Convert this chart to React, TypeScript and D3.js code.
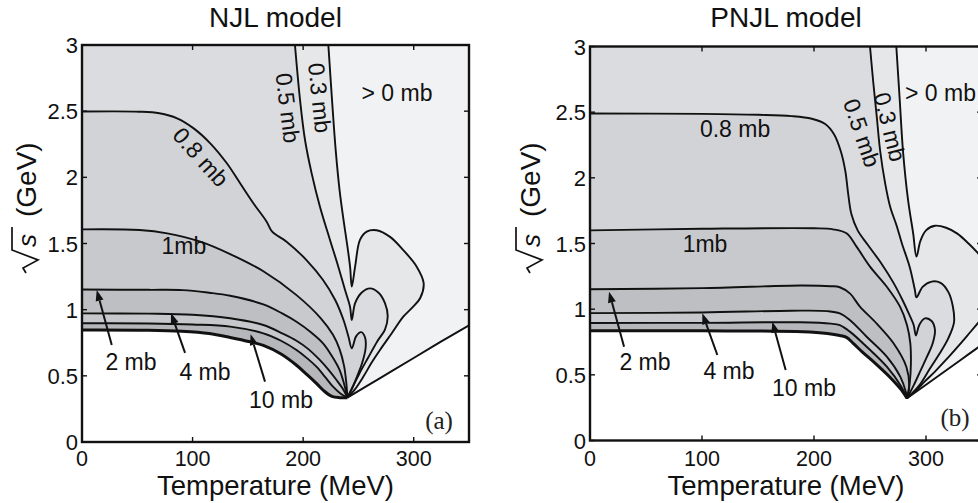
import React from 'react';
import * as d3 from 'd3';

type Pt = [number, number];

// ---------- axes ----------
const tempTicks = [0, 100, 200, 300];
const sqrtsTicks = [0, 0.5, 1, 1.5, 2, 2.5, 3];
const sqrtsTickLabels = ['0', '0.5', '1', '1.5', '2', '2.5', '3'];
const tempMax = 350;
const sqrtsMax = 3;

// contour levels (mb), region fills for "> level"
const contourLevels = [0.3, 0.5, 0.8, 1, 2, 4, 10];

// ---------- NJL model (T in MeV, sqrt(s) in GeV) ----------
const njlThresholdLeft: Pt[] = [[0, 0.847], [60, 0.845], [90, 0.837], [115, 0.82], [134, 0.79], [152, 0.757], [164, 0.73], [180, 0.665], [194, 0.58], [204, 0.505], [212, 0.443], [219, 0.385], [226, 0.345], [233, 0.335], [240, 0.335]];
const njlThresholdRight: Pt[] = [[240, 0.335], [270, 0.485], [300, 0.635], [325, 0.76], [350, 0.882]];
const njl03: Pt[] = [[222.8, 3], [226, 2.6], [229.5, 2.2], [233, 1.9], [236.5, 1.68], [240, 1.48], [242.5, 1.32], [244, 1.174], [247, 1.325], [251.4, 1.527], [257.5, 1.59], [266.5, 1.6], [278.6, 1.55], [290.6, 1.45], [302.7, 1.325], [309, 1.2], [306, 1.09], [298, 1.01], [290.6, 0.947], [280, 0.82], [269.5, 0.695], [262, 0.6], [254.4, 0.493], [247, 0.4], [240, 0.335]];
const njl05: Pt[] = [[192.6, 3], [197.2, 2.584], [201.7, 2.282], [207.7, 2.03], [215.2, 1.778], [224.3, 1.527], [231.8, 1.325], [237.9, 1.149], [242.4, 1.022], [244, 0.922], [247, 1.05], [253, 1.13], [260.5, 1.161], [268, 1.13], [274, 1.05], [276.5, 0.95], [274, 0.85], [267, 0.76], [259, 0.64], [251, 0.52], [245, 0.42], [240, 0.335]];
const njl08: Pt[] = [[0, 2.497], [52, 2.496], [70, 2.484], [86, 2.446], [101, 2.37], [116, 2.257], [131, 2.106], [143, 1.955], [155, 1.804], [167, 1.665], [172, 1.589], [185, 1.514], [203, 1.375], [218, 1.224], [229, 1.073], [236.5, 0.922], [241, 0.796], [244, 0.708], [248, 0.8], [252.5, 0.83], [256, 0.79], [256.5, 0.71], [253.5, 0.6], [249, 0.5], [244.5, 0.41], [240, 0.335]];
const njl1: Pt[] = [[0, 1.607], [52, 1.602], [77, 1.577], [107, 1.514], [134, 1.42], [164, 1.29], [194, 1.11], [216, 0.935], [227, 0.81], [233, 0.7], [237, 0.575], [239, 0.45], [240, 0.335]];
const njl2: Pt[] = [[0, 1.152], [60, 1.15], [91, 1.148], [115, 1.128], [134, 1.105], [164, 1.04], [181, 0.972], [194, 0.909], [207, 0.83], [218, 0.746], [226, 0.65], [233, 0.544], [237, 0.44], [240, 0.335]];
const njl4: Pt[] = [[0, 0.972], [60, 0.97], [100, 0.962], [134, 0.935], [164, 0.884], [181, 0.821], [194, 0.765], [205, 0.7], [215, 0.62], [223, 0.545], [230, 0.47], [236, 0.4], [240, 0.335]];
const njl10: Pt[] = [[0, 0.897], [60, 0.896], [100, 0.888], [134, 0.872], [164, 0.821], [180, 0.765], [194, 0.695], [204, 0.63], [212, 0.569], [220, 0.49], [227, 0.418], [234, 0.365], [240, 0.335]];

// ---------- PNJL model ----------
const pnjlThresholdLeft: Pt[] = [[0, 0.835], [100, 0.835], [190, 0.828], [212, 0.815], [223, 0.8], [229, 0.785], [235, 0.74], [243, 0.675], [255, 0.585], [268, 0.48], [278, 0.385], [283, 0.321]];
const pnjlThresholdRight: Pt[] = [[283, 0.321], [310, 0.486], [330, 0.608], [350, 0.73]];
const pnjl03: Pt[] = [[273.5, 3], [276.5, 2.6], [279.5, 2.2], [284, 1.83], [288.5, 1.58], [291.5, 1.4], [295, 1.52], [300, 1.6], [308, 1.635], [318, 1.62], [328, 1.575], [338, 1.5], [346, 1.43], [350, 1.39]];
const pnjl03Return: Pt[] = [[350, 0.93], [340, 0.83], [330, 0.73], [318, 0.615], [308, 0.525], [299, 0.45], [291, 0.38], [283, 0.321]];
const pnjl05: Pt[] = [[250, 3], [253, 2.72], [256, 2.47], [259, 2.21], [263.5, 1.96], [268, 1.78], [274, 1.63], [278.5, 1.5], [285.5, 1.32], [290, 1.15], [291.5, 1.09], [297, 1.17], [305, 1.21], [313, 1.2], [320, 1.13], [324, 1.02], [325, 0.9], [320, 0.78], [312, 0.66], [303, 0.54], [294, 0.42], [283, 0.321]];
const pnjl08: Pt[] = [[0, 2.49], [100, 2.487], [150, 2.48], [180, 2.47], [198, 2.45], [210, 2.41], [218, 2.33], [224, 2.2], [228, 2.05], [230.5, 1.88], [233.5, 1.72], [239, 1.6], [248, 1.49], [260, 1.35], [271, 1.2], [279, 1.07], [285, 0.96], [289, 0.88], [291, 0.8], [294, 0.88], [299, 0.93], [305, 0.91], [308, 0.84], [306, 0.74], [301, 0.64], [295, 0.53], [289, 0.42], [283, 0.321]];
const pnjl1: Pt[] = [[0, 1.6], [100, 1.612], [200, 1.616], [217, 1.608], [229, 1.578], [238, 1.476], [250, 1.324], [265, 1.171], [276.8, 1.019], [283, 0.88], [286, 0.74], [286.5, 0.58], [285.5, 0.44], [283, 0.321]];
const pnjl2: Pt[] = [[0, 1.152], [100, 1.16], [188, 1.18], [215, 1.175], [223, 1.167], [232, 1.12], [241, 1.02], [256, 0.89], [271, 0.74], [282.5, 0.56], [285, 0.41], [283, 0.321]];
const pnjl4: Pt[] = [[0, 0.97], [100, 0.975], [180, 0.988], [212, 0.985], [223, 0.968], [232, 0.918], [247, 0.79], [265, 0.638], [277, 0.486], [282, 0.37], [283, 0.321]];
const pnjl10: Pt[] = [[0, 0.895], [100, 0.896], [188, 0.9], [215, 0.89], [223, 0.878], [232, 0.829], [247, 0.714], [265, 0.562], [278, 0.41], [283, 0.321]];

// ---------- annotations (data coordinates) ----------
type Label = { text: string; at: Pt; rot?: number; anchor?: string };
type Arrow = { from: Pt; to: Pt };
const njlLabels: Label[] = [
  { text: '0.8 mb', at: [107.6, 2.154], rot: 48 },
  { text: '0.5 mb', at: [186.3, 2.524], rot: 83 },
  { text: '0.3 mb', at: [215.2, 2.6], rot: 84 },
  { text: '> 0 mb', at: [284.9, 2.637] },
  { text: '1mb', at: [92.2, 1.481] },
  { text: '2 mb', at: [44.3, 0.605] },
  { text: '4 mb', at: [111.2, 0.529] },
  { text: '10 mb', at: [180, 0.317] },
];
const njlArrows: Arrow[] = [
  { from: [26.9, 0.733], to: [13.3, 1.149] },
  { from: [93.2, 0.673], to: [80.5, 0.975] },
  { from: [165.5, 0.456], to: [152.5, 0.815] },
];
const pnjlLabels: Label[] = [
  { text: '0.8 mb', at: [129.5, 2.376] },
  { text: '0.5 mb', at: [242.9, 2.342], rot: 71 },
  { text: '0.3 mb', at: [267.9, 2.388], rot: 76 },
  { text: '> 0 mb', at: [281.25, 2.647], anchor: 'start' },
  { text: '1mb', at: [102.7, 1.497] },
  { text: '2 mb', at: [49.1, 0.598] },
  { text: '4 mb', at: [124.1, 0.529] },
  { text: '10 mb', at: [191.1, 0.4] },
];
const pnjlArrows: Arrow[] = [
  { from: [30.4, 0.714], to: [17, 1.133] },
  { from: [113.7, 0.651], to: [100.3, 0.969] },
  { from: [174.7, 0.537], to: [162.8, 0.905] },
];

// ---------- styles ----------
const SANS = 'Liberation Sans, Arial, Helvetica, sans-serif';
const SERIF = 'Liberation Serif, Times New Roman, serif';
const INK = '#111';
const bgFill = '#f1f2f4';
const levelFills = ['#e6e7e9', '#dbdcdf', '#d2d3d6', '#c8c9cc', '#bebfc2', '#c7c8cb', '#b6b7ba'];

type Geom = { x0: number; y0: number; w: number; h: number };

interface PanelProps {
  id: string;
  geom: Geom;
  title: string;
  tag: string;
  tagAt: Pt;
  lines: Pt[][];
  ret03?: Pt[];
  thrL: Pt[];
  thrR: Pt[];
  labels: Label[];
  arrows: Arrow[];
  ylabX: number;
  ylabY: number;
}

function Panel(p: PanelProps) {
  const { geom } = p;
  const x = d3.scaleLinear().domain([0, tempMax]).range([geom.x0, geom.x0 + geom.w]);
  const y = d3.scaleLinear().domain([0, sqrtsMax]).range([geom.y0 + geom.h, geom.y0]);
  const gen = d3.line<Pt>().x(d => x(d[0])).y(d => y(d[1])).curve(d3.curveCatmullRom.alpha(0.5));
  const poly = (pieces: Pt[][]) =>
    pieces.map((pc, i) => { const s = gen(pc) as string; return i ? 'L' + s.slice(1) : s; }).join('') + 'Z';
  const thrLRev = p.thrL.slice().reverse();
  const thrRRev = p.thrR.slice().reverse();
  const bgPath = poly([[[0, sqrtsMax], [tempMax, sqrtsMax]], [[tempMax, sqrtsMax], p.thrR[p.thrR.length - 1]], thrRRev, thrLRev]);
  const levelPaths = p.lines.map((ln, i) => {
    const pieces: Pt[][] = [];
    const first = ln[0];
    if (first[1] >= sqrtsMax) pieces.push([[0, sqrtsMax], first]);
    pieces.push(ln);
    if (i === 0 && p.ret03) {
      pieces.push([ln[ln.length - 1], p.ret03[0]]);
      pieces.push(p.ret03);
    }
    pieces.push(thrLRev);
    return poly(pieces);
  });
  const cx = geom.x0 + geom.w / 2;
  const yb = geom.y0 + geom.h;
  const xr = geom.x0 + geom.w;

  return (
    <g>
      <defs>
        <clipPath id={p.id}>
          <rect x={geom.x0} y={geom.y0} width={geom.w} height={geom.h} />
        </clipPath>
      </defs>
      <g clipPath={`url(#${p.id})`}>
        <path d={bgPath} fill={bgFill} stroke="none" />
        {levelPaths.map((d, i) => (
          <path key={contourLevels[i]} d={d} fill={levelFills[i]} stroke="none" />
        ))}
        {p.lines.map((ln, i) => (
          <path key={'l' + i} d={gen(ln) as string} fill="none" stroke={INK} strokeWidth={1.9} strokeLinejoin="round" />
        ))}
        {p.ret03 && <path d={gen(p.ret03) as string} fill="none" stroke={INK} strokeWidth={1.9} />}
        <path d={gen(p.thrL) as string} fill="none" stroke={INK} strokeWidth={3} />
        <path d={gen(p.thrR) as string} fill="none" stroke={INK} strokeWidth={1.9} />
      </g>
      {/* frame */}
      <rect x={geom.x0} y={geom.y0} width={geom.w} height={geom.h} fill="none" stroke={INK} strokeWidth={2.4} />
      {/* ticks */}
      {tempTicks.map(t => (
        <g key={'xt' + t}>
          <line x1={x(t)} x2={x(t)} y1={yb} y2={yb - 5} stroke={INK} strokeWidth={1.4} />
          <line x1={x(t)} x2={x(t)} y1={geom.y0} y2={geom.y0 + 5} stroke={INK} strokeWidth={1.4} />
          <text x={x(t)} y={466} textAnchor="middle" fontFamily={SANS} fontSize={21.5} fill={INK}>{t}</text>
        </g>
      ))}
      {sqrtsTicks.map((v, i) => (
        <g key={'yt' + v}>
          <line x1={geom.x0} x2={geom.x0 + 5} y1={y(v)} y2={y(v)} stroke={INK} strokeWidth={1.4} />
          <line x1={xr} x2={xr - 5} y1={y(v)} y2={y(v)} stroke={INK} strokeWidth={1.4} />
          <text x={geom.x0 - 4} y={y(v) + 8} textAnchor="end" fontFamily={SANS} fontSize={22} fill={INK}>{sqrtsTickLabels[i]}</text>
        </g>
      ))}
      {/* labels */}
      {p.labels.map(l => (
        <text key={l.text} transform={`translate(${x(l.at[0])},${y(l.at[1])}) rotate(${l.rot || 0})`}
          textAnchor={l.anchor || 'middle'} dy="0.36em" fontFamily={SANS} fontSize={23} fill={INK}>{l.text}</text>
      ))}
      {p.arrows.map((a, i) => {
        const x1 = x(a.from[0]), y1 = y(a.from[1]), x2 = x(a.to[0]), y2 = y(a.to[1]);
        const len = Math.hypot(x2 - x1, y2 - y1);
        const ux = (x2 - x1) / len, uy = (y2 - y1) / len;
        const hl = 11, hw = 4;
        const bx = x2 - ux * hl, by = y2 - uy * hl;
        const tri = `M${x2},${y2}L${bx - uy * hw},${by + ux * hw}L${bx + uy * hw},${by - ux * hw}Z`;
        return (
          <g key={'a' + i}>
            <line x1={x1} y1={y1} x2={bx} y2={by} stroke={INK} strokeWidth={2} />
            <path d={tri} fill={INK} />
          </g>
        );
      })}
      <text x={x(p.tagAt[0])} y={y(p.tagAt[1])} dy="0.36em" textAnchor="middle" fontFamily={SERIF} fontSize={25} fill="#222">{p.tag}</text>
      {/* titles */}
      <text x={cx} y={27} textAnchor="middle" fontFamily={SANS} fontSize={28} fill={INK}>{p.title}</text>
      <text x={cx} y={495} textAnchor="middle" fontFamily={SANS} fontSize={27.5} fill={INK}>Temperature (MeV)</text>
      <g transform={`translate(${p.ylabX},${p.ylabY}) rotate(-90)`}>
        <path d="M-60,-10 L-55,-13 L-47,2 L-37,-24 L-14,-24" fill="none" stroke={INK} strokeWidth={1.7} />
        <text x={-34} y={0} fontFamily={SANS} fontStyle="italic" fontSize={26} fill={INK}>s</text>
        <text x={-4} y={0} fontFamily={SANS} fontSize={28} fill={INK}>(GeV)</text>
      </g>
    </g>
  );
}

export default function App() {
  const njlLines = [njl03, njl05, njl08, njl1, njl2, njl4, njl10];
  const pnjlLines = [pnjl03, pnjl05, pnjl08, pnjl1, pnjl2, pnjl4, pnjl10];
  return (
    <svg width={978} height={503} style={{ position: 'absolute', left: 0, top: 0, background: '#fff' }}>
      <rect x={0} y={0} width={978} height={503} fill="#fff" />
      <Panel id="clipA" geom={{ x0: 82, y0: 45, w: 387, h: 397 }} title="NJL model" tag="(a)" tagAt={[322.9, 0.166]}
        lines={njlLines} thrL={njlThresholdLeft} thrR={njlThresholdRight}
        labels={njlLabels} arrows={njlArrows} ylabX={36} ylabY={213} />
      <Panel id="clipB" geom={{ x0: 590, y0: 46.5, w: 392, h: 394 }} title="PNJL model" tag="(b)" tagAt={[325.9, 0.179]}
        lines={pnjlLines} ret03={pnjl03Return} thrL={pnjlThresholdLeft} thrR={pnjlThresholdRight}
        labels={pnjlLabels} arrows={pnjlArrows} ylabX={540} ylabY={213} />
    </svg>
  );
}
